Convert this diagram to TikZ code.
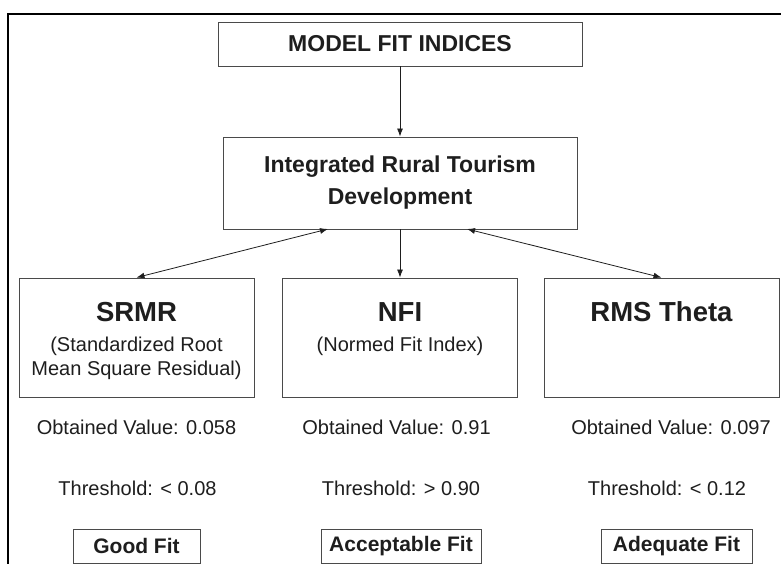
\documentclass[tikz,border=0pt]{standalone}
\usepackage{fontspec}
\setmainfont{Liberation Sans}
\usetikzlibrary{arrows.meta}
\definecolor{inkgrey}{HTML}{1E1E1E}
\definecolor{rulegrey}{HTML}{4A4A4A}

\begin{document}
\begin{tikzpicture}[x=1pt,y=-1pt,
  box/.style={draw=rulegrey,line width=0.9pt,fill=white,inner sep=0pt},
  tip/.style={-{Latex[length=8pt,width=6pt]},draw=inkgrey,line width=0.8pt},
  both/.style={{Latex[length=8pt,width=6pt]}-{Latex[length=8pt,width=6pt]},draw=inkgrey,line width=0.8pt}]
  \useasboundingbox[fill=white] (0,0) rectangle (781,564);
  % outer frame, cut off at the right and bottom
  \draw[line width=2.6pt,black] (8,600) -- (8,14) -- (800,14);

  \node[box,minimum width=364pt,minimum height=44pt,
        font=\fontsize{23}{28}\selectfont\bfseries,text=inkgrey] (title) at (400,44) {MODEL FIT INDICES};
  \node[box,minimum width=354pt,minimum height=92pt,align=center,
        font=\fontsize{23}{32}\selectfont\bfseries,text=inkgrey] (hub) at (400,183)
        {Integrated Rural Tourism\\Development};

  \foreach \id/\cx/\head/\sub/\vx/\val/\tx/\thr/\fx/\fw/\fit in {
    srmr/136.5/SRMR/{(Standardized Root\\Mean Square Residual)}/136.5/0.058/137.5/{< 0.08}/136.5/127/{Good Fit},
    nfi/400/NFI/{(Normed Fit Index)}/396.5/0.91/401/{> 0.90}/401/160/{Acceptable Fit},
    rms/661.5/RMS Theta/{}/671/0.097/667/{< 0.12}/676.5/151/{Adequate Fit}} {
    \node[box,minimum width=235pt,minimum height=119pt] (\id) at (\cx,337.5) {};
    \node[anchor=base,font=\fontsize{27.5}{30}\selectfont\bfseries,text=inkgrey]
          (\id-head) at (\cx,321) {\head};
    \node[anchor=north,inner sep=0pt,align=center,font=\fontsize{20}{24}\selectfont,text=inkgrey]
          (\id-sub) at (\cx,336.5) {\sub};
    \node[anchor=base,font=\fontsize{20}{24}\selectfont,text=inkgrey]
          (\id-val) at (\vx,434) {Obtained Value: \val};
    \node[anchor=base,font=\fontsize{20}{24}\selectfont,text=inkgrey]
          (\id-thr) at (\tx,495) {Threshold: \thr};
    \node[box,minimum width=\fw pt,minimum height=34pt,
          font=\fontsize{21}{24}\selectfont\bfseries,text=inkgrey] (\id-fit) at (\fx,546) {\fit};
  }

  \coordinate (hubL) at (328,229);
  \coordinate (hubR) at (467,229);
  \draw[tip] (title) -- (hub);
  \draw[both] (hubL) -- (srmr.north);
  \draw[tip] (hub) -- (nfi);
  \draw[both] (hubR) -- (rms.north);
\end{tikzpicture}
\end{document}
